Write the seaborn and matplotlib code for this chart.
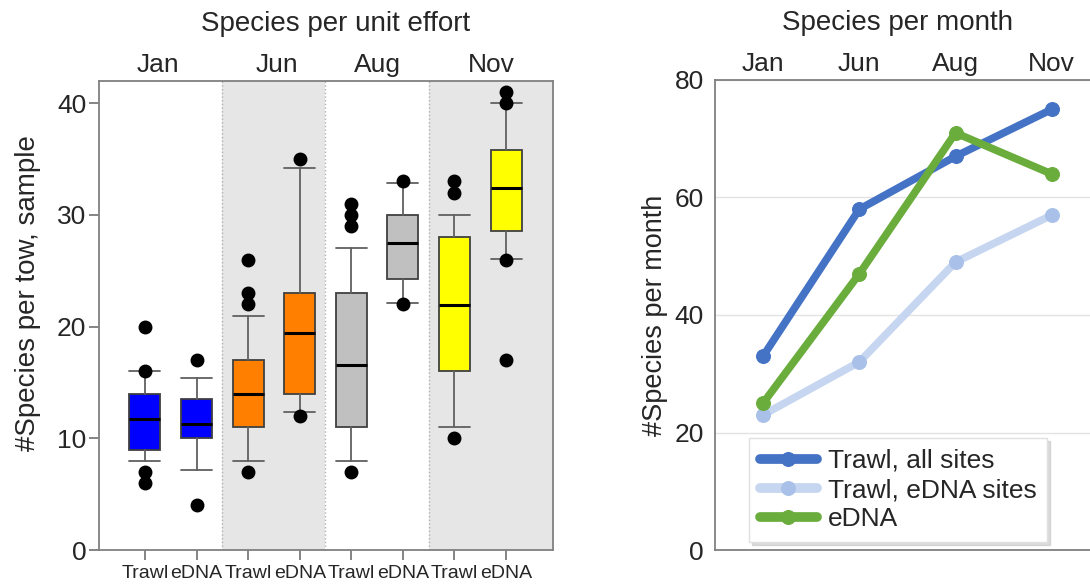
import matplotlib
matplotlib.use("Agg")
import matplotlib.pyplot as plt
import seaborn as sns
import pandas as pd

# ---------------- data ----------------
months = ["Jan", "Jun", "Aug", "Nov"]
methods = ["Trawl", "eDNA"]
box_colors = ["#0000FF", "#0000FF", "#FF8000", "#FF8000",
              "#C0C0C0", "#C0C0C0", "#FFFF00", "#FFFF00"]

# box statistics (Trawl, eDNA per month)
q1 = [9.0, 10.0, 11.0, 14.0, 11.0, 24.3, 16.0, 28.6]
med = [11.7, 11.3, 14.0, 19.4, 16.6, 27.5, 21.9, 32.4]
q3 = [14.0, 13.5, 17.0, 23.0, 23.0, 30.0, 28.0, 35.8]
whislo = [8.0, 7.2, 8.0, 12.4, 8.0, 22.1, 11.0, 26.1]
whishi = [16.0, 15.4, 21.0, 34.2, 27.0, 32.9, 30.0, 40.0]
fliers = [[20, 16, 7, 6], [17, 4], [26, 23, 22, 7], [35, 12],
          [31, 30, 29, 7], [33, 22], [33, 32, 10], [41, 40, 26, 17]]

series_names = ["Trawl, all sites", "Trawl, eDNA sites", "eDNA"]
trawl_all = [33, 58, 67, 75]
trawl_edna_sites = [23, 32, 49, 57]
edna = [25, 47, 71, 64]
line_colors = ["#4472C4", "#C6D6F0", "#6AAD3D"]
marker_colors = ["#4472C4", "#A9C1E8", "#6AAD3D"]

# ---------------- style ----------------
sns.set_theme(style="white")
plt.rcParams["font.family"] = ["Liberation Sans", "DejaVu Sans"]

fig = plt.figure(figsize=(10.9, 5.86), dpi=100)
W, H = 1090, 586
ax1 = fig.add_axes([99 / W, 1 - 550 / H, (553 - 99) / W, 469 / H])
ax2 = fig.add_axes([715 / W, 1 - 550 / H, (1095 - 715) / W, 470 / H])

# ---------------- left: box plots ----------------
stats = []
for i in range(len(q1)):
    stats.append(dict(q1=q1[i], med=med[i], q3=q3[i], whislo=whislo[i],
                      whishi=whishi[i], fliers=fliers[i],
                      label=methods[i % 2]))
positions = list(range(len(stats)))

ax1.axvspan(1.5, 3.5, color="#E6E6E6", zorder=0, lw=0)
ax1.axvspan(5.5, 8.5, color="#E6E6E6", zorder=0, lw=0)
for xb in (1.5, 3.5, 5.5):
    ax1.axvline(xb, color="#B0B0B0", ls=":", lw=1, zorder=0.5)

bp = ax1.bxp(stats, positions=positions, widths=0.6, capwidths=0.6,
             patch_artist=True,
             boxprops=dict(edgecolor="#404040", linewidth=1.3),
             medianprops=dict(color="black", linewidth=2.2),
             whiskerprops=dict(color="#606060", linewidth=1.3),
             capprops=dict(color="#606060", linewidth=1.3),
             flierprops=dict(marker="o", markerfacecolor="black",
                             markeredgecolor="black", markersize=9),
             manage_ticks=False)
for patch, c in zip(bp["boxes"], box_colors):
    patch.set_facecolor(c)
    patch.set_zorder(2)

ax1.set_xlim(-0.89, 7.91)
ax1.set_ylim(0, 42)
ax1.set_yticks([0, 10, 20, 30, 40])
ax1.set_xticks(positions)
ax1.set_xticklabels([methods[i % 2] for i in positions], fontsize=14)
ax1.tick_params(axis="y", labelsize=19, length=7, width=1.2,
                color="#707070", left=True, pad=2)
ax1.tick_params(axis="x", length=7, width=1.2, color="#707070",
                bottom=True, pad=4)
for s in ax1.spines.values():
    s.set_color("#808080")
    s.set_linewidth(1.3)
ax1.set_ylabel("#Species per tow, sample", fontsize=20)
ax1.yaxis.set_label_coords(-0.128, 0.548)

top1 = ax1.secondary_xaxis("top")
top1.set_xticks([0.25, 2.56, 4.5, 6.72])
top1.set_xticklabels(months, fontsize=19)
top1.tick_params(length=0, pad=3)
top1.spines["top"].set_visible(False)
ax1.set_title("Species per unit effort", fontsize=20, pad=36, x=0.52)

# ---------------- right: lines ----------------
df = pd.DataFrame({
    "month": months * 3,
    "x": list(range(4)) * 3,
    "value": trawl_all + trawl_edna_sites + edna,
    "series": [series_names[0]] * 4 + [series_names[1]] * 4 + [series_names[2]] * 4,
})
for idx in [1, 2, 0]:
    name = series_names[idx]
    sub = df[df["series"] == name]
    sns.lineplot(data=sub, x="x", y="value", ax=ax2, color=line_colors[idx],
                 linewidth=5.5, marker="o", markersize=10,
                 markerfacecolor=marker_colors[idx],
                 markeredgecolor=marker_colors[idx], label=name,
                 zorder=3 + idx)

ax2.set_xlim(-0.5, 3.45)
ax2.set_ylim(0, 80)
ax2.set_yticks([0, 20, 40, 60, 80])
ax2.grid(axis="y", color="#E3E3E3", linewidth=1)
ax2.set_axisbelow(True)
ax2.set_xticks([])
ax2.set_xlabel("")
ax2.tick_params(axis="y", labelsize=19, length=0, pad=8)
for s in ax2.spines.values():
    s.set_color("#808080")
    s.set_linewidth(1.3)
ax2.set_ylabel("#Species per month", fontsize=19.5, labelpad=5)

top2 = ax2.secondary_xaxis("top")
top2.set_xticks(range(4))
top2.set_xticklabels(months, fontsize=19)
top2.tick_params(length=0, pad=3)
top2.spines["top"].set_visible(False)
ax2.set_title("Species per month", fontsize=20, pad=36, x=0.479)

handles, labels = ax2.get_legend_handles_labels()
hmap = dict(zip(labels, handles))
leg = ax2.legend([hmap[n] for n in series_names], series_names,
                 loc="lower left", bbox_to_anchor=(0.0895, 0.017),
                 fontsize=19, frameon=True, fancybox=False,
                 shadow={"color": "#BBBBBB", "alpha": 0.5},
                 edgecolor="#E0E0E0", handlelength=2.16, handletextpad=0.42,
                 borderpad=0.4, labelspacing=0.2, borderaxespad=0)
leg.get_frame().set_linewidth(1)
for ln in leg.get_lines():
    ln.set_linewidth(7)

fig.savefig("out.png", dpi=100)
